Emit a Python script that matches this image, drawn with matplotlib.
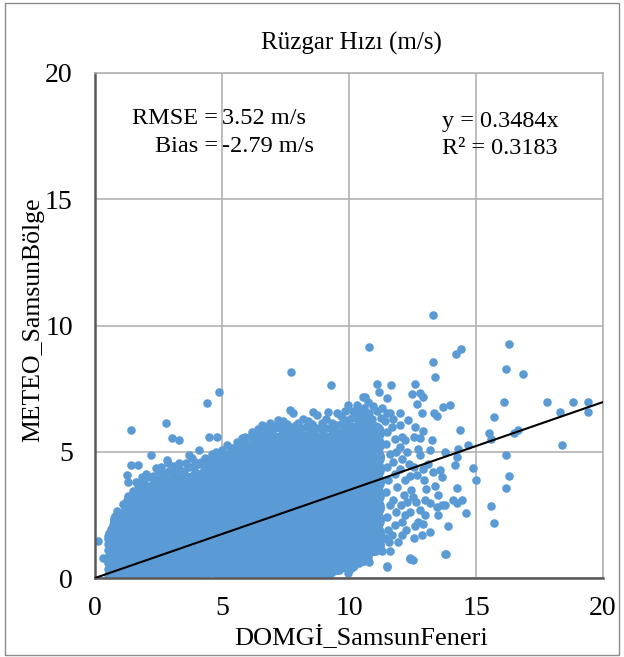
import numpy as np
import matplotlib.pyplot as plt
from matplotlib.patches import Rectangle

plt.rcParams['font.family'] = ['Liberation Serif', 'DejaVu Serif']

# dense core of the cloud, read column by column (x position, y values)
core_cols = [1.0, 1.5, 2.0, 2.5, 3.0, 3.5, 4.0, 4.5, 5.0, 5.5, 6.0,
             6.5, 7.0, 7.5, 8.0, 8.5, 9.0, 9.5, 10.0, 10.5, 11.0]
core_vals = [
    [0.3, 0.8, 1.3, 1.8, 2.3],
    [0.55, 1.05, 1.55, 2.05, 2.55, 3.0],
    [0.3, 0.8, 1.3, 1.75, 2.25, 2.75, 3.1, 3.4],
    [0.55, 1.05, 1.5, 2.0, 2.5, 2.95, 3.35, 3.65],
    [0.3, 0.8, 1.3, 1.8, 2.3, 2.8, 3.25, 3.7],
    [0.55, 1.05, 1.55, 2.05, 2.5, 2.95, 3.4, 3.8],
    [0.3, 0.8, 1.3, 1.8, 2.3, 2.8, 3.3, 3.6, 3.9],
    [0.55, 1.05, 1.55, 2.05, 2.55, 3.05, 3.5, 3.85, 4.1],
    [0.3, 0.8, 1.3, 1.8, 2.3, 2.8, 3.3, 3.8, 4.3],
    [0.55, 1.05, 1.55, 2.05, 2.55, 3.05, 3.55, 4.05, 4.6],
    [0.3, 0.8, 1.3, 1.8, 2.3, 2.8, 3.3, 3.8, 4.3, 4.7, 5.0],
    [0.55, 1.05, 1.55, 2.05, 2.55, 3.05, 3.55, 4.05, 4.55, 4.95, 5.25],
    [0.3, 0.8, 1.3, 1.8, 2.3, 2.8, 3.3, 3.8, 4.3, 4.8, 5.1, 5.4],
    [0.55, 1.05, 1.55, 2.05, 2.55, 3.05, 3.55, 4.05, 4.55, 5.05, 5.5],
    [0.3, 0.8, 1.3, 1.8, 2.3, 2.8, 3.3, 3.8, 4.3, 4.8, 5.2, 5.5],
    [0.55, 1.05, 1.55, 2.05, 2.55, 3.05, 3.55, 4.05, 4.55, 5.0, 5.45],
    [0.3, 0.8, 1.3, 1.8, 2.3, 2.8, 3.3, 3.8, 4.3, 4.8, 5.1, 5.4],
    [0.55, 1.05, 1.55, 2.05, 2.55, 3.05, 3.55, 4.05, 4.55, 5.05, 5.5],
    [0.65, 1.1, 1.6, 2.1, 2.6, 3.1, 3.6, 4.1, 4.6, 5.1, 5.5, 5.8],
    [0.9, 1.4, 1.9, 2.4, 2.9, 3.4, 3.9, 4.4, 4.9, 5.4, 5.9],
    [1.3, 1.8, 2.3, 2.8, 3.3, 3.8, 4.3, 4.8, 5.3, 5.8],
]

# upper edge of the cloud
top_x = [0.5, 0.7, 0.9, 1.1, 1.3, 1.5, 1.7, 1.9, 2.1, 2.3, 2.5, 2.7, 2.9, 3.1,
         3.3, 3.5, 3.7, 3.9, 4.1, 4.3, 4.5, 4.7, 4.9, 5.1, 5.3, 5.5, 5.7, 5.9,
         6.1, 6.3, 6.5, 6.7, 6.9, 7.1, 7.3, 7.5, 7.7, 7.9, 8.1, 8.3, 8.5, 8.7,
         8.9, 9.1, 9.3, 9.5, 9.7, 9.9, 10.1, 10.3, 10.5, 10.7, 10.9,
         0.95, 1.2, 1.45, 1.7, 1.95, 2.2, 2.45, 2.7, 2.95, 3.2, 3.45, 3.7,
         3.95, 4.2, 4.45, 4.7, 4.95, 5.2, 5.45, 5.7, 5.95, 6.2, 6.45, 6.7,
         6.95, 7.2, 7.45, 7.7, 7.95, 8.2, 8.45, 8.7, 8.95, 9.2, 9.45, 9.7,
         9.95, 10.2, 10.45, 10.7, 10.95]
top_y = [1.65, 2.1, 2.5, 2.95, 3.25, 3.45, 3.7, 3.8, 4.0, 4.05, 4.2, 4.15, 4.25, 4.2,
         4.3, 4.25, 4.4, 4.35, 4.5, 4.5, 4.65, 4.65, 4.8, 4.85, 5.0, 5.1, 5.3, 5.4,
         5.6, 5.65, 5.8, 5.8, 5.9, 5.95, 5.95, 6.05, 6.0, 6.05, 5.95, 6.0, 5.9, 5.95,
         5.9, 5.95, 5.95, 6.05, 6.1, 6.25, 6.35, 6.35, 6.45, 6.35, 6.3,
         2.33, 2.73, 3.08, 3.31, 3.51, 3.65, 3.79, 3.82, 3.85, 3.89, 3.94, 3.99,
         4.04, 4.13, 4.23, 4.33, 4.43, 4.57, 4.72, 4.91, 5.11, 5.25, 5.37, 5.46,
         5.53, 5.59, 5.65, 5.65, 5.65, 5.63, 5.6, 5.58, 5.55, 5.59, 5.64, 5.77,
         5.92, 5.99, 6.04, 6.01, 5.97]

# left and lower edge of the cloud
low_x = [0.5, 0.5, 0.5, 0.5, 0.5, 0.5, 0.5, 0.62, 0.62, 0.62, 0.62, 0.62,
         0.62, 0.62, 0.62, 0.75, 0.75, 0.75, 0.75, 0.85, 0.85,
         1.0, 1.25, 1.5, 1.75, 2.0, 2.25, 2.5, 2.75, 3.0, 3.25, 3.5, 3.75,
         4.0, 4.25, 4.5, 4.75, 5.0, 5.25, 5.5, 5.75, 6.0, 6.25, 6.5, 6.75,
         7.0, 7.25, 7.5, 7.75, 8.0, 8.25, 8.5, 8.75, 9.0, 9.25,
         9.35, 9.6, 9.8, 9.95, 10.05, 10.2, 10.4, 10.6]
low_y = [0.1, 0.35, 0.6, 0.85, 1.1, 1.35, 1.55, 0.2, 0.5, 0.75, 1.0, 1.25,
         1.5, 1.75, 1.95, 0.1, 0.4, 2.0, 2.25, 2.45, 2.65,
         0.12, 0.1, 0.15, 0.12, 0.08, 0.14, 0.1, 0.16, 0.12, 0.1, 0.15, 0.12,
         0.1, 0.14, 0.18, 0.12, 0.1, 0.15, 0.12, 0.1, 0.16, 0.12, 0.14, 0.1,
         0.12, 0.15, 0.1, 0.12, 0.14, 0.1, 0.16, 0.12, 0.1, 0.15,
         0.25, 0.3, 0.45, 0.2, 0.35, 0.55, 0.6, 0.75]

# scattered points just above the dense part
bump_x = [0.1, 0.3, 0.55, 0.8, 1.27, 1.31, 1.42, 1.71, 1.4, 1.6, 1.85, 2.0,
          2.2, 2.4, 2.6, 2.82, 2.89, 3.02, 3.31, 2.8, 3.31, 3.1, 3.6, 3.7,
          3.8, 3.95, 4.09, 4.17, 4.35, 4.4, 4.5, 4.82, 4.9, 4.6, 4.75, 5.0,
          5.18, 5.38, 5.56, 5.6, 5.8, 5.91, 6.17, 6.4, 6.59, 6.76, 6.9, 7.15,
          7.22, 7.4, 7.55, 7.68, 7.81, 7.7, 8.01, 8.2, 8.4, 8.56, 8.6, 8.73,
          8.93, 9.1, 9.19, 9.32, 9.52, 9.29, 9.7, 9.85, 9.98, 10.15, 10.3,
          10.4, 10.57, 10.6, 10.8, 10.95, 11.1, 11.25, 11.3]
bump_y = [1.45, 0.8, 1.8, 2.4, 4.08, 3.82, 4.48, 4.48, 5.86, 3.8, 4.0, 4.1,
          4.87, 4.35, 4.4, 4.67, 4.54, 5.56, 5.47, 6.15, 4.57, 4.45, 4.55, 4.87,
          4.74, 4.6, 5.07, 4.61, 4.75, 6.94, 5.57, 5.57, 7.37, 4.9, 5.0, 5.05,
          5.27, 5.16, 5.14, 5.4, 5.55, 5.6, 5.8, 5.9, 6.06, 6.0, 6.15, 6.05,
          6.25, 6.2, 6.1, 6.65, 6.52, 8.14, 6.15, 6.3, 6.2, 6.1, 6.58, 6.45,
          6.15, 6.3, 6.58, 6.15, 6.52, 7.65, 6.4, 6.6, 6.85, 6.6, 6.85,
          6.6, 7.18, 6.75, 6.55, 6.8, 6.6, 6.35, 6.75]

# thinner part of the cloud to the right of x = 11
right_x = [10.63, 10.76, 11.09, 11.18, 11.48, 11.65, 12.6, 12.47, 12.8, 12.9,
           13.39, 12.69, 13.98, 13.71, 13.36, 13.45, 12.86, 12.01, 11.48, 11.6,
           12.31, 12.01, 12.6, 12.93, 11.68, 12.07, 12.2, 12.57, 12.8, 13.28,
           14.37, 14.7, 14.3, 13.78, 13.19, 12.8, 14.24, 14.17, 13.58, 13.67,
           14.9, 14.99, 14.24, 13.39, 13.03, 12.66, 12.4, 12.2, 14.11, 14.24,
           14.44, 13.67, 13.78, 13.52, 13.45, 12.99, 13.19, 14.59, 13.91, 12.8,
           12.73, 12.93, 13.19, 12.6, 12.57, 12.86, 12.23, 12.07, 11.94, 13.78,
           12.4, 11.48, 11.59, 11.29, 11.61, 10.79, 10.5,
           11.4, 11.5, 11.45, 11.6, 11.5, 11.55, 11.45, 11.6, 11.5, 11.55, 11.4,
           11.75, 11.8, 11.85, 11.75, 11.8, 11.9, 11.75, 11.85, 11.8, 11.7,
           12.0, 12.1, 12.0, 12.15, 12.05, 12.2, 12.1, 12.3, 12.35, 12.45, 12.3,
           12.4, 12.5, 12.55, 12.7, 12.65, 12.9, 12.95, 13.1, 13.0, 13.3, 13.5]
right_y = [7.18, 6.99, 7.69, 7.37, 7.12, 7.65, 7.69, 7.29, 7.34, 7.18,
           7.98, 6.89, 6.85, 6.76, 6.55, 6.42, 6.55, 6.55, 6.55, 6.55,
           6.26, 6.06, 5.97, 5.84, 5.97, 5.6, 5.47, 5.6, 5.53, 5.47,
           5.86, 5.27, 5.1, 5.0, 5.07, 4.87, 4.78, 4.48, 4.28, 3.99,
           4.35, 3.88, 3.55, 3.65, 3.51, 4.08, 4.02, 3.88, 3.09, 2.99,
           3.09, 2.89, 2.89, 2.5, 2.83, 3.09, 2.96, 2.56, 2.06, 2.7,
           2.23, 2.14, 1.84, 2.04, 1.57, 1.71, 1.9, 1.71, 1.44, 0.95,
           0.74, 0.45, 1.44, 1.05, 1.05, 0.65, 1.05,
           6.2, 5.8, 5.3, 4.9, 4.4, 3.9, 3.4, 2.9, 2.4, 1.9, 1.6,
           6.3, 5.5, 5.0, 4.6, 4.1, 3.6, 3.1, 2.6, 2.1, 1.7,
           5.2, 4.7, 4.3, 3.3, 2.9, 2.5, 2.2, 5.0, 4.5, 3.5, 3.0,
           2.6, 3.2, 4.4, 5.1, 3.0, 4.3, 3.9, 4.5, 2.5, 4.2, 3.3]

# isolated points far from the cloud
far_x = [10.8, 13.3, 14.2, 14.4, 13.3, 16.3, 16.2, 16.85, 16.1, 17.8, 18.3,
         18.8, 19.4, 19.4, 18.4, 15.7, 15.5, 15.6, 16.5, 16.65, 16.2, 16.3,
         16.2, 15.6, 15.7, 12.4, 13.8, 11.5, 12.5]
far_y = [9.15, 10.4, 8.87, 9.07, 8.57, 9.27, 8.27, 8.08, 6.97, 6.97, 6.57,
         6.97, 6.97, 6.57, 5.27, 6.37, 5.75, 5.5, 5.75, 5.85, 4.87, 4.05,
         3.56, 2.85, 2.18, 0.79, 0.95, 0.48, 0.7]

slope = 0.3484
ticks = [0, 5, 10, 15, 20]

core_x = np.repeat(core_cols, [len(v) for v in core_vals])
core_y = np.concatenate(core_vals)
pts_x = np.concatenate([top_x, low_x, bump_x, right_x, far_x])
pts_y = np.concatenate([top_y, low_y, bump_y, right_y, far_y])

W, H = 624, 657
fig = plt.figure(figsize=(W / 100, H / 100), dpi=100)
ax = fig.add_axes([95 / W, 79 / H, 508 / W, 505 / H])

blue = '#5B9BD5'
ax.scatter(core_x, core_y, s=230, color=blue, linewidths=0, antialiased=False, zorder=2)
ax.scatter(pts_x, pts_y, s=38, color=blue, linewidths=0, zorder=2)

fit_x = np.array([0, 20])
ax.plot(fit_x, slope * fit_x, color='black', lw=1.5, zorder=3)

ax.set_xlim(0, 20)
ax.set_ylim(0, 20)
ax.set_xticks(ticks)
ax.set_yticks(ticks)
ax.grid(True, color='#b3b3b3', lw=1.2)
ax.set_axisbelow(True)
ax.tick_params(length=0, labelsize=20)
ax.tick_params(axis='x', pad=13)
ax.tick_params(axis='y', pad=16)
for s in ['left', 'bottom']:
    ax.spines[s].set_color('#595959')
    ax.spines[s].set_linewidth(1.8)
for s in ['top', 'right']:
    ax.spines[s].set_color('#b3b3b3')
    ax.spines[s].set_linewidth(1.2)

fig.text(351 / W, 1 - 43 / H, 'Rüzgar Hızı (m/s)', ha='center', va='center', fontsize=18)
fig.text(361 / W, 1 - 637 / H, 'DOMGİ_SamsunFeneri', ha='center', va='center', fontsize=19)
fig.text(33 / W, 1 - 320 / H, 'METEO_SamsunBölge', ha='center', va='center',
         rotation=90, fontsize=18.5)

fs = 17.5
fig.text(218 / W, 1 - 119 / H, 'RMSE =', ha='right', va='center', fontsize=fs)
fig.text(222 / W, 1 - 119 / H, '3.52 m/s', ha='left', va='center', fontsize=fs)
fig.text(218 / W, 1 - 147 / H, 'Bias =', ha='right', va='center', fontsize=fs)
fig.text(222 / W, 1 - 147 / H, '-2.79 m/s', ha='left', va='center', fontsize=fs)
fig.text(442 / W, 1 - 121 / H, 'y = 0.3484x', ha='left', va='center', fontsize=fs)
fig.text(442 / W, 1 - 149 / H, 'R² = 0.3183', ha='left', va='center', fontsize=fs)

fig.patches.append(Rectangle((5 / W, 2 / H), 614 / W, 652 / H, transform=fig.transFigure,
                             fill=False, edgecolor='#8c8c8c', lw=1))

fig.savefig('out.png', dpi=100)
